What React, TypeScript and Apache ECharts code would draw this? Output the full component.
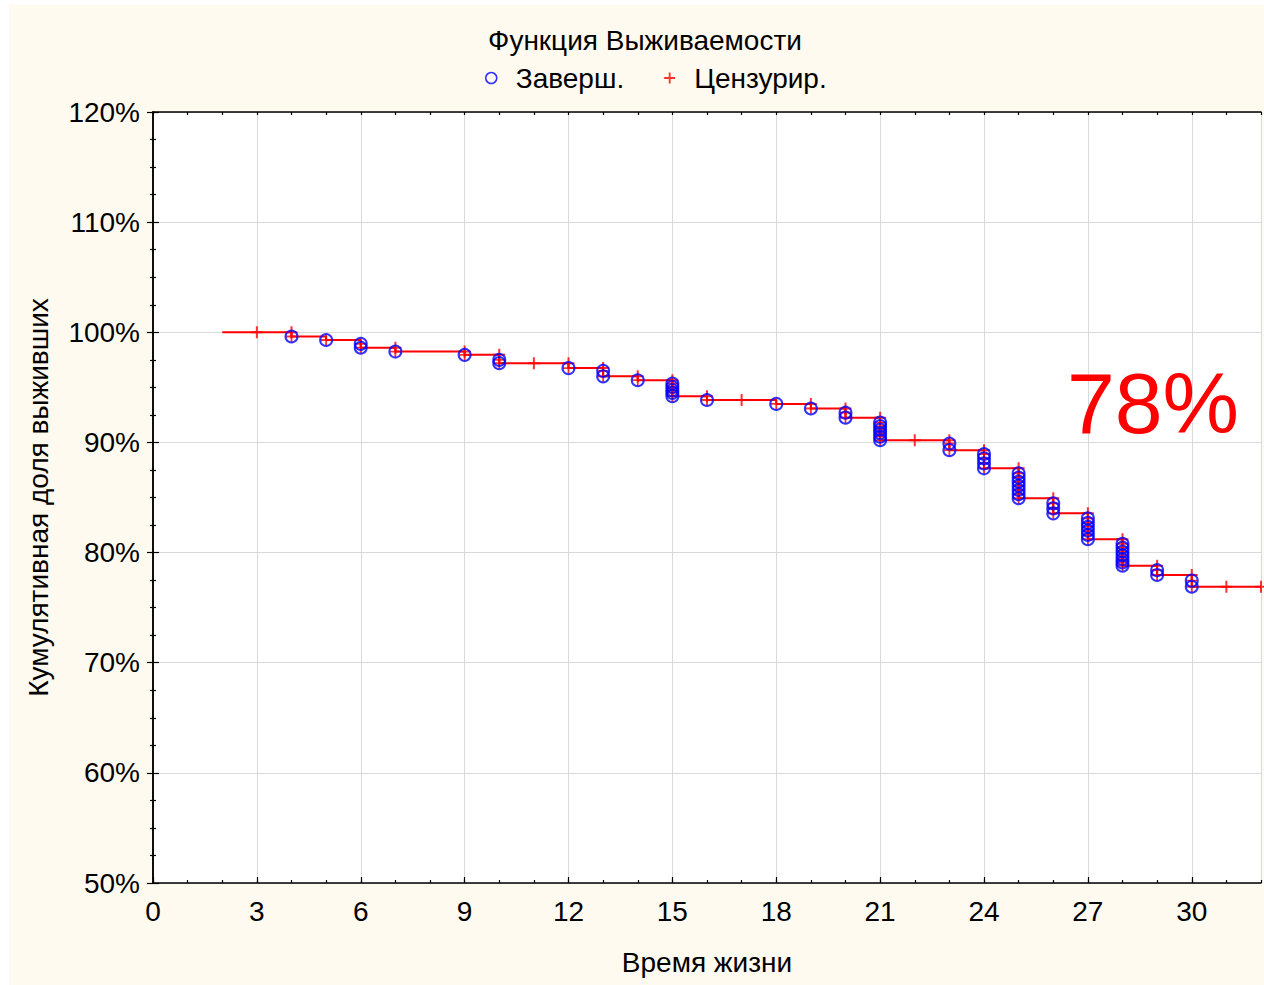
import React, { useEffect, useRef } from "react";
import * as echarts from "echarts";

// ---- Axis ranges / ticks ----
const X_MIN = 0;
const X_MAX = 32;
const X_STEP = 3;
const Y_MIN = 50;
const Y_MAX = 120;
const Y_STEP = 10;

// ---- Texts ----
const TITLE = "Функция Выживаемости";
const X_NAME = "Время жизни";
const Y_NAME = "Кумулятивная доля выживших";
const COMPLETE_NAME = "Заверш.";
const CENSORED_NAME = "Цензурир.";
const ANNOTATION = "78%";

// ---- Data ----
const lineStartTime = 2;
const lineStartSurvival = 100;
const lineEndTime = 32;

// completed observations (time, cumulative survival %)
const eventTimes = [
  4, 5, 6, 6, 7, 9, 10, 10, 12, 13, 13, 14,
  15, 15, 15, 15, 15, 16, 18, 19, 20, 20,
  21, 21, 21, 21, 21, 21, 23, 23, 24, 24, 24, 24,
  25, 25, 25, 25, 25, 25, 25, 26, 26, 26,
  27, 27, 27, 27, 27, 27, 28, 28, 28, 28, 28, 28, 28,
  29, 29, 30, 30,
];
const eventSurvival = [
  99.62, 99.3, 98.95, 98.6, 98.25, 97.95, 97.5, 97.2, 96.75, 96.5, 96.0, 95.65,
  95.35, 95.05, 94.75, 94.5, 94.2, 93.85, 93.5, 93.08, 92.7, 92.25,
  91.8, 91.48, 91.16, 90.84, 90.52, 90.2, 89.9, 89.3, 88.95, 88.55, 88.1, 87.65,
  87.2, 86.82, 86.44, 86.06, 85.68, 85.3, 84.93, 84.47, 84.01, 83.56,
  83.1, 82.7, 82.35, 81.98, 81.6, 81.22, 80.8, 80.45, 80.1, 79.75, 79.4, 79.1, 78.8,
  78.4, 77.96, 77.45, 76.9,
];

// censored observations (time, cumulative survival %)
const censorTimes = [
  3, 4, 7, 9, 10, 11, 12, 13, 14, 15, 16, 17, 19, 20, 21, 22, 23, 24, 25, 26,
  27, 28, 29, 30, 31, 32,
];
const censorSurvival = [
  100, 100, 98.6, 98.25, 97.95, 97.2, 97.2, 96.75, 96.0, 95.65, 94.2, 93.85,
  93.5, 93.08, 92.25, 90.2, 90.2, 89.3, 87.65, 84.93, 83.56, 81.22, 78.8,
  77.96, 76.9, 76.9,
];

const PLUS = "path://M-1,-6H1V-1H6V1H1V6H-1V1H-6V-1H-1Z";
const FONT = "'Liberation Sans', Arial, sans-serif";
const FS = 28;

export default function App() {
  const ref = useRef<HTMLDivElement>(null);

  useEffect(() => {
    if (!ref.current) return;
    const chart = echarts.init(ref.current, undefined, { renderer: "svg" });

    // build step line from the completed observations
    const stepLine: number[][] = [[lineStartTime, lineStartSurvival]];
    let level = lineStartSurvival;
    eventTimes.forEach((t, i) => {
      stepLine.push([t, level]);
      stepLine.push([t, eventSurvival[i]]);
      level = eventSurvival[i];
    });
    stepLine.push([lineEndTime, level]);

    const events = eventTimes.map((t, i) => [t, eventSurvival[i]]);
    const censored = censorTimes.map((t, i) => [t, censorSurvival[i]]);

    const tickStyle = { color: "#000", width: 1.2 };
    const axisLine = { show: true, lineStyle: { color: "#000", width: 1.5 } };

    chart.setOption({
      animation: false,
      backgroundColor: "transparent",
      textStyle: { fontFamily: FONT },
      grid: {
        left: 153,
        right: 3,
        top: 112,
        bottom: 102,
        show: true,
        backgroundColor: "#ffffff",
        borderWidth: 0,
      },
      graphic: [
        {
          type: "text",
          x: 645,
          y: 40,
          style: {
            text: TITLE,
            fontSize: FS,
            fontFamily: FONT,
            fill: "#000",
            textAlign: "center",
            textVerticalAlign: "middle",
          },
        },
        {
          type: "text",
          x: 1153,
          y: 403,
          style: {
            text: ANNOTATION,
            fontSize: 86,
            fontFamily: FONT,
            fill: "#ff0000",
            textAlign: "center",
            textVerticalAlign: "middle",
          },
          z: 100,
        },
      ],
      legend: {
        left: 480,
        top: 59,
        itemWidth: 11,
        itemHeight: 12,
        itemGap: 40,
        textStyle: {
          fontSize: FS,
          fontFamily: FONT,
          color: "#000",
          padding: [0, 0, 0, 14],
        },
        data: [
          {
            name: COMPLETE_NAME,
            icon: "circle",
            itemStyle: { color: "transparent", borderColor: "#0000ff", borderWidth: 1.5 },
          },
          {
            name: CENSORED_NAME,
            icon: PLUS,
            itemStyle: { color: "#ff0000", borderWidth: 0 },
          },
        ],
      },
      xAxis: [
        {
          type: "value",
          position: "bottom",
          min: X_MIN,
          max: X_MAX,
          interval: X_STEP,
          name: X_NAME,
          nameLocation: "middle",
          nameGap: 65,
          nameTextStyle: { fontSize: FS, color: "#000", fontFamily: FONT },
          axisLine,
          axisTick: { show: true, inside: true, length: 6, lineStyle: tickStyle },
          axisLabel: {
            fontSize: FS,
            color: "#000",
            margin: 14,
            showMaxLabel: false,
            fontFamily: FONT,
          },
          splitLine: { show: true, lineStyle: { color: "#d9d9d9", width: 1 } },
        },
        {
          type: "value",
          position: "bottom",
          min: X_MIN,
          max: X_MAX,
          interval: 1,
          axisLine: { show: false },
          axisTick: { show: true, inside: true, length: 3, lineStyle: tickStyle },
          axisLabel: { show: false },
          splitLine: { show: false },
        },
        {
          type: "value",
          position: "top",
          min: X_MIN,
          max: X_MAX,
          interval: 1,
          axisLine,
          axisTick: { show: true, inside: true, length: 3, lineStyle: tickStyle },
          axisLabel: { show: false },
          splitLine: { show: false },
        },
      ],
      yAxis: [
        {
          type: "value",
          position: "left",
          min: Y_MIN,
          max: Y_MAX,
          interval: Y_STEP,
          name: Y_NAME,
          nameLocation: "middle",
          nameGap: 101,
          nameTextStyle: { fontSize: FS, color: "#000", fontFamily: FONT },
          axisLine,
          axisTick: { show: true, inside: true, length: 6, lineStyle: tickStyle },
          minorTick: { show: true, splitNumber: 4, length: 3, lineStyle: tickStyle },
          axisLabel: {
            fontSize: FS,
            color: "#000",
            margin: 13,
            formatter: "{value}%",
            fontFamily: FONT,
          },
          splitLine: { show: true, lineStyle: { color: "#d9d9d9", width: 1 } },
        },
        {
          type: "value",
          position: "right",
          min: Y_MIN,
          max: Y_MAX,
          interval: Y_STEP,
          axisLine,
          axisTick: { show: true, inside: true, length: 6, lineStyle: tickStyle },
          minorTick: { show: true, splitNumber: 4, length: 3, lineStyle: tickStyle },
          axisLabel: { show: false },
          splitLine: { show: false },
        },
      ],
      series: [
        {
          type: "line",
          name: "step",
          data: stepLine,
          showSymbol: false,
          symbol: "none",
          lineStyle: { color: "#ff0000", width: 2 },
          z: 2,
        },
        {
          type: "scatter",
          name: "eventPlus",
          data: events,
          symbol: PLUS,
          symbolSize: 11,
          itemStyle: { color: "#ff0000" },
          z: 3,
        },
        {
          type: "scatter",
          name: CENSORED_NAME,
          data: censored,
          symbol: PLUS,
          symbolSize: 12,
          itemStyle: { color: "#ff0000" },
          z: 3,
        },
        {
          type: "scatter",
          name: COMPLETE_NAME,
          data: events,
          symbol: "circle",
          symbolSize: 12,
          itemStyle: { color: "transparent", borderColor: "#0000ff", borderWidth: 2 },
          z: 4,
        },
      ],
    });

    return () => chart.dispose();
  }, []);

  return (
    <div
      style={{
        position: "fixed",
        left: 0,
        top: 0,
        width: 1264,
        height: 985,
        background: "#ffffff",
      }}
    >
      <div
        style={{
          position: "absolute",
          left: 9,
          top: 5,
          right: 0,
          bottom: 0,
          background: "#fffaef",
        }}
      />
      <div
        ref={ref}
        style={{ position: "absolute", left: 0, top: 0, width: 1264, height: 985 }}
      />
    </div>
  );
}
